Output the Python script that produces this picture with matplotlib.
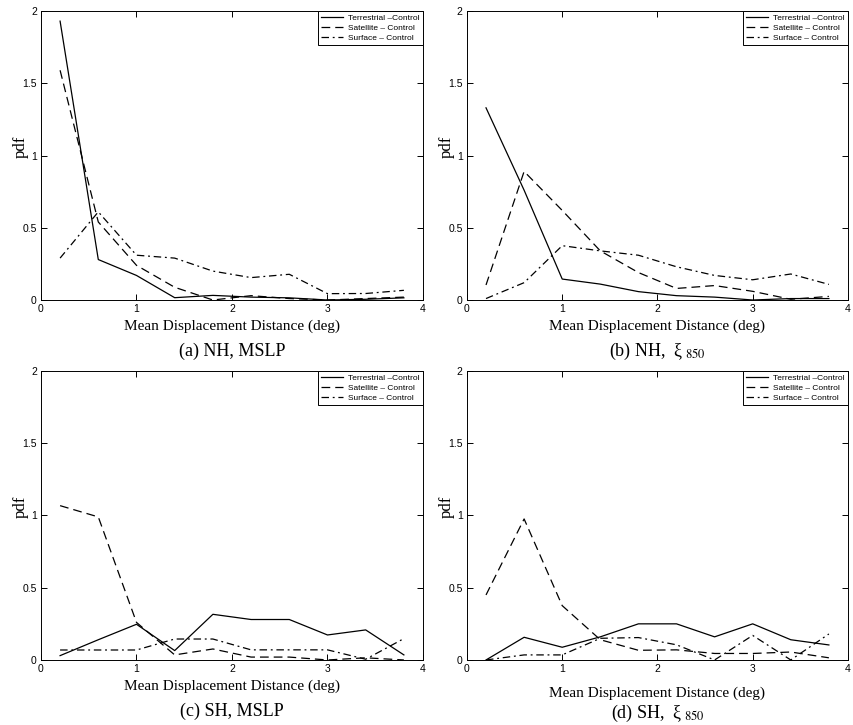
"""
Displacement pdfs: Terrestrial / Satellite / Surface minus Control
"""
import numpy as np
import matplotlib
matplotlib.use("Agg")
import matplotlib.pyplot as plt

plt.rcParams["mathtext.fontset"] = "stix"

# bin centres of mean displacement distance (deg)
dist = [0.2, 0.6, 1.0, 1.4, 1.8, 2.2, 2.6, 3.0, 3.4, 3.8]

# (a) NH, MSLP
nh_mslp_terr = [1.93, 0.28, 0.17, 0.016, 0.032, 0.02, 0.015, 0.0, 0.005, 0.015]
nh_mslp_sat  = [1.59, 0.54, 0.24, 0.088, 0.0, 0.03, 0.01, 0.0, 0.01, 0.02]
nh_mslp_surf = [0.29, 0.61, 0.31, 0.29, 0.20, 0.155, 0.178, 0.044, 0.045, 0.067]

# (b) NH, xi850
nh_xi_terr = [1.33, 0.76, 0.145, 0.11, 0.058, 0.03, 0.02, 0.0, 0.01, 0.01]
nh_xi_sat  = [0.104, 0.89, 0.62, 0.34, 0.19, 0.08, 0.10, 0.06, 0.005, 0.025]
nh_xi_surf = [0.01, 0.12, 0.376, 0.34, 0.31, 0.23, 0.17, 0.14, 0.18, 0.108]

# (c) SH, MSLP
sh_mslp_terr = [0.03, 0.14, 0.247, 0.065, 0.316, 0.28, 0.28, 0.173, 0.208, 0.035]
sh_mslp_sat  = [1.068, 0.99, 0.26, 0.035, 0.076, 0.02, 0.02, 0.0, 0.015, 0.0]
sh_mslp_surf = [0.069, 0.069, 0.069, 0.145, 0.145, 0.07, 0.07, 0.07, 0.005, 0.148]

# (d) SH, xi850
sh_xi_terr = [0.0, 0.157, 0.088, 0.16, 0.25, 0.25, 0.16, 0.25, 0.14, 0.104]
sh_xi_sat  = [0.45, 0.976, 0.376, 0.14, 0.067, 0.07, 0.045, 0.045, 0.055, 0.015]
sh_xi_surf = [0.0, 0.035, 0.035, 0.15, 0.155, 0.105, 0.0, 0.17, 0.0, 0.18]

series_names = ["Terrestrial \u2013Control", "Satellite \u2013 Control",
                "Surface \u2013 Control"]
captions = ["(a) NH, MSLP", "(b) NH,  \u03be$_{\\ 850}$",
            "(c) SH, MSLP", "(d) SH,  \u03be$_{\\ 850}$"]
panels = [
    (nh_mslp_terr, nh_mslp_sat, nh_mslp_surf),
    (nh_xi_terr, nh_xi_sat, nh_xi_surf),
    (sh_mslp_terr, sh_mslp_sat, sh_mslp_surf),
    (sh_xi_terr, sh_xi_sat, sh_xi_surf),
]

# axes boxes in figure fraction: left, bottom, width, height
boxes = [
    [0.048, 0.5862, 0.4473, 0.3986],
    [0.5468, 0.5862, 0.4461, 0.3986],
    [0.048, 0.0897, 0.4473, 0.3986],
    [0.5468, 0.0897, 0.4461, 0.3986],
]
styles = [
    dict(linestyle="-"),
    dict(linestyle=(0, (7, 4))),
    dict(linestyle=(0, (6, 3, 1.5, 3))),
]
serif = "Liberation Serif"
sans = "Liberation Sans"

fig = plt.figure(figsize=(8.54, 7.25), dpi=100)

for i, (curves, box, cap) in enumerate(zip(panels, boxes, captions)):
    ax = fig.add_axes(box)
    for y, st, name in zip(curves, styles, series_names):
        ax.plot(dist, y, color="black", linewidth=0.9, label=name, **st)

    ax.set_xlim(0, 4)
    ax.set_ylim(0, 2)
    ax.set_xticks([0, 1, 2, 3, 4])
    ax.set_yticks([0, 0.5, 1, 1.5, 2])
    ax.set_xticklabels(["0", "1", "2", "3", "4"])
    ax.set_yticklabels(["0", "0.5", "1", "1.5", "2"])
    ax.tick_params(direction="in", top=True, right=True, length=4,
                   width=0.7, labelsize=7.5, pad=3)
    for lab in ax.get_xticklabels() + ax.get_yticklabels():
        lab.set_fontfamily(sans)
    for sp in ax.spines.values():
        sp.set_linewidth(0.7)

    xpad = 4 if i < 3 else 9
    ax.set_xlabel("Mean Displacement Distance (deg)", fontfamily=serif,
                  fontsize=11, labelpad=xpad)
    ax.set_ylabel("pdf", fontfamily=serif, fontsize=12)
    ax.yaxis.set_label_coords(-0.032, 0.53)
    ax.text(0.5, -0.177 if i < 3 else -0.185, cap, transform=ax.transAxes,
            ha="center", va="center", fontfamily=serif, fontsize=13)

    leg = ax.legend(loc="upper right", borderaxespad=0, fancybox=False,
                    edgecolor="black", framealpha=1,
                    prop={"family": sans, "size": 6},
                    handlelength=2.6, handletextpad=0.6, labelspacing=0.25,
                    borderpad=0.4)
    leg.get_frame().set_linewidth(0.7)

fig.savefig("out.png", dpi=100)
